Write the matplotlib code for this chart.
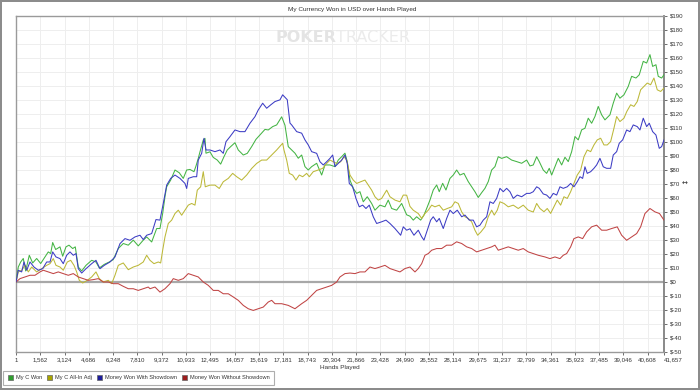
import matplotlib
matplotlib.use("Agg")
import matplotlib.pyplot as plt
from matplotlib.patches import Patch
from matplotlib.ticker import FixedLocator, FuncFormatter, MultipleLocator

title = "My Currency Won in USD over Hands Played"
x_label = "Hands Played"
series_names = ["My C Won", "My C All-In Adj", "Money Won With Showdown", "Money Won Without Showdown"]
x_ticks = [1, 1562, 3124, 4686, 6248, 7810, 9372, 10933, 12495, 14057, 15619, 17181, 18743,
           20304, 21866, 23428, 24990, 26552, 28114, 29675, 31237, 32799, 34361, 35923, 37485,
           39046, 40608, 41657]

green_x = [1, 148, 302, 469, 624, 855, 1073, 1331, 1588, 1864, 2076, 2231, 2359, 2552, 2828, 3002,
           3214, 3407, 3645, 3812, 4005, 4223, 4500, 4866, 5142, 5355, 5676, 5997, 6254, 6576, 6897,
           7219, 7540, 7861, 8183, 8401, 8723, 9044, 9256, 9430, 9578, 9687, 9944, 10221, 10497,
           10754, 10973, 11185, 11442, 11570, 11718, 11828, 12040, 12149, 12213, 12470, 12682,
           12940, 13158, 13370, 13582, 13801, 14077, 14289, 14611, 14868, 15151, 15427, 15684,
           16006, 16218, 16501, 16758, 17079, 17291, 17503, 17722, 17934, 18146, 18365, 18577,
           18789, 19007, 19329, 19650, 19863, 20184, 20505, 20717, 20936, 21148, 21296, 21470,
           21682, 21900, 22112, 22325, 22582, 22864, 23076, 23397, 23719, 23931, 24150, 24472,
           24793, 25114, 25326, 25539, 25757, 26015, 26226, 26400, 26612, 26824, 27043, 27210,
           27428, 27640, 27898, 28110, 28328, 28540, 28797, 29074, 29292, 29504, 29717, 29935,
           30147, 30359, 30578, 30790, 31002, 31221, 31542, 31864, 32185, 32506, 32828, 33040,
           33252, 33471, 33638, 33895, 34113, 34281, 34435, 34647, 34859, 35078, 35290, 35502,
           35721, 35933, 36145, 36363, 36575, 36788, 37006, 37218, 37430, 37649, 37861, 38182,
           38394, 38613, 38825, 39082, 39359, 39577, 39854, 40066, 40323, 40541, 40754, 40927,
           41139, 41287, 41506, 41657]
green_y = [0, 10.7, 14.3, 16.8, 7.9, 19.1, 13.6, 16.8, 13.2, 17.9, 21.5, 20.3, 28.2, 23.2, 25.1, 18.4,
           25.1, 26.3, 23.9, 25.1, 10.7, 7.9, 11.9, 15.5, 14.3, 10.0, 12.6, 14.3, 16.0, 23.9, 27.5,
           26.3, 29.9, 25.8, 29.9, 32.2, 28.6, 38.2, 38.2, 49.0, 60.9, 68.0, 72.8, 80.0, 78.0,
           74.0, 80.0, 80.4, 78.8, 82.8, 88.3, 93.0, 101.4, 102.6, 92.0, 93.0, 89.0,
           87.1, 84.2, 89.5, 94.3, 96.7, 99.5, 94.3, 90.7, 91.9, 96.7, 101.9, 105.0,
           109.0, 108.6, 111.0, 112.2, 118.0, 112.0, 96.7, 94.3, 92.0, 88.4, 90.7, 82.4,
           80.0, 82.4, 84.8, 76.4, 83.6, 83.6, 82.4, 87.1, 89.5, 92.0, 86.0, 72.8,
           66.9, 63.3, 64.5, 57.3, 60.9, 56.1, 51.3, 54.9, 53.7, 58.5, 52.5, 51.3,
           56.1, 48.0, 47.0, 44.2, 46.6, 44.2, 47.8, 52.5, 58.5, 65.7, 69.3, 64.5,
           70.5, 65.7, 74.0, 76.4, 80.0, 76.4, 77.6, 71.7, 68.1, 64.5, 60.4, 63.8,
           66.9, 71.7, 80.0, 82.4, 89.5, 88.3, 89.5, 87.1, 86.0, 84.8, 87.1, 82.9,
           83.6, 89.5, 86.0, 80.0, 77.6, 81.2, 76.4, 82.4, 88.3, 83.6, 89.1, 86.0,
           93.1, 103.9, 101.5, 108.7, 109.8, 117.0, 113.4, 118.2, 125.4, 119.4, 115.8, 119.4,
           127.7, 134.9, 131.3, 133.7, 139.7, 146.9, 145.7, 148.0, 157.6, 156.4, 162.4, 154.0,
           155.2, 146.9, 145.7, 148.0]

yellow_x = [1, 148, 366, 579, 791, 1009, 1331, 1652, 1973, 2186, 2398, 2571, 2828, 3040, 3298, 3516,
            3728, 3902, 4069, 4287, 4583, 4866, 5142, 5355, 5612, 5933, 6152, 6364, 6576, 6897,
            7219, 7540, 7861, 8183, 8401, 8614, 8871, 9147, 9301, 9430, 9578, 9790, 10009, 10221,
            10433, 10651, 10863, 11075, 11294, 11506, 11654, 11872, 12040, 12168, 12470, 12792,
            13068, 13325, 13647, 13929, 14187, 14508, 14830, 15151, 15472, 15794, 16115, 16437,
            16758, 17143, 17227, 17401, 17568, 17786, 17998, 18211, 18429, 18686, 18853, 19111,
            19432, 19715, 19972, 20184, 20396, 20615, 20872, 21084, 21257, 21470, 21682, 21900,
            22157, 22434, 22646, 22864, 23076, 23289, 23507, 23829, 24041, 24362, 24684, 24896,
            25114, 25326, 25539, 25860, 26079, 26291, 26503, 26722, 26933, 27210, 27467, 27724,
            28007, 28219, 28431, 28650, 28862, 29074, 29292, 29504, 29678, 29890, 30147, 30359,
            30578, 30745, 30938, 31112, 31369, 31645, 31967, 32288, 32609, 32931, 33252, 33471,
            33683, 33940, 34152, 34370, 34583, 34795, 35013, 35225, 35438, 35656, 35868, 36080,
            36299, 36511, 36723, 36942, 37154, 37366, 37585, 37797, 38009, 38227, 38439, 38613,
            38825, 39082, 39266, 39513, 39725, 39937, 40156, 40368, 40580, 40798, 41010, 41223,
            41441, 41657]
yellow_y = [0, 7.2, 8.4, 11.9, 7.2, 10.7, 7.2, 9.5, 11.9, 13.1, 16.7, 11.9, 10.7, 8.4, 14.3, 15.5,
            11.9, 7.2, 1.2, -0.7, 1.2, 3.6, 7.2, 2.4, 0.0, 1.2, -1.2, 4.8, 11.9, 13.6,
            8.8, 10.7, 11.9, 14.3, 19.1, 15.5, 13.1, 14.3, 13.6, 22.7, 32.2, 41.8, 44.2, 48.9,
            51.3, 47.7, 51.3, 54.9, 56.1, 54.9, 65.6, 68.0, 78.8, 68.0, 69.2, 69.2,
            66.8, 71.6, 74.0, 77.6, 75.2, 72.8, 76.4, 81.1, 84.7, 87.1, 87.1, 90.7,
            94.3, 99.1, 94.3, 87.1, 77.6, 76.4, 72.8, 76.4, 75.2, 77.6, 75.2, 78.8,
            80.0, 81.2, 84.7, 87.1, 85.9, 84.7, 85.9, 89.5, 87.1, 76.4, 72.8, 70.4,
            71.6, 72.8, 69.2, 65.6, 60.9, 58.5, 59.7, 65.6, 60.9, 58.5, 57.3, 62.1,
            62.0, 54.0, 51.3, 48.9, 45.4, 48.9, 51.3, 54.9, 53.7, 54.9, 51.3, 52.5,
            53.7, 57.3, 56.1, 50.1, 46.6, 45.4, 43.0, 37.0, 33.4, 35.8, 39.4, 46.6,
            51.3, 47.8, 51.3, 57.3, 56.1, 53.7, 54.9, 52.5, 54.9, 51.3, 50.0, 56.1,
            52.5, 50.2, 52.5, 49.0, 53.7, 58.5, 54.9, 60.9, 59.7, 64.5, 70.4, 76.4,
            80.0, 89.5, 94.3, 93.1, 97.9, 101.5, 102.7, 97.9, 97.9, 100.3, 109.8, 118.2,
            114.6, 117.0, 121.8, 126.6, 125.4, 128.9, 137.3, 139.7, 142.1, 140.9, 145.7, 137.3,
            136.1, 138.5]

blue_x = [1, 148, 366, 514, 688, 900, 1157, 1433, 1716, 1973, 2186, 2359, 2571, 2828, 3040, 3259,
          3471, 3683, 3857, 4005, 4223, 4500, 4866, 5142, 5400, 5676, 6042, 6364, 6685, 7007,
          7328, 7649, 7971, 8183, 8401, 8723, 8999, 9256, 9468, 9687, 9944, 10221, 10542, 10863,
          10973, 11075, 11397, 11615, 11718, 11937, 12085, 12213, 12470, 12792, 13113, 13325,
          13499, 13756, 14077, 14399, 14720, 15042, 15363, 15575, 15858, 16115, 16372, 16649,
          16970, 17143, 17439, 17613, 17722, 18043, 18365, 18577, 18789, 19007, 19329, 19541,
          19753, 19972, 20184, 20357, 20505, 20717, 20936, 21148, 21296, 21425, 21643, 21855,
          22067, 22286, 22498, 22710, 22967, 23186, 23507, 23784, 24041, 24362, 24729, 24896,
          25114, 25326, 25583, 25860, 26079, 26226, 26439, 26657, 26824, 27043, 27210, 27467,
          27685, 27898, 28110, 28367, 28650, 28862, 29138, 29395, 29614, 29825, 30038, 30257,
          30469, 30681, 30899, 31112, 31324, 31542, 31754, 31967, 32224, 32506, 32828, 33040,
          33252, 33471, 33638, 33895, 34113, 34326, 34538, 34756, 34968, 35181, 35438, 35656,
          35868, 36080, 36254, 36427, 36575, 36723, 36942, 37154, 37327, 37540, 37752, 37970,
          38227, 38394, 38613, 38780, 38999, 39256, 39468, 39680, 39937, 40111, 40323, 40541,
          40709, 40927, 41139, 41351, 41506, 41657]
blue_y = [0, 8.4, 7.2, 14.3, 8.4, 14.3, 10.7, 8.4, 9.5, 14.3, 14.3, 21.5, 17.9, 16.7, 13.1, 19.1,
          21.5, 19.1, 20.3, 9.5, 6.4, 9.5, 13.1, 15.5, 9.5, 11.9, 14.3, 17.9, 27.4, 31.0,
          29.8, 32.2, 33.4, 30.3, 33.4, 34.6, 44.6, 44.2, 56.1, 69.2, 74.0, 76.4, 74.0, 70.4,
          66.8, 74.0, 75.2, 75.2, 87.1, 91.9, 102.6, 94.3, 94.3, 93.1, 94.3, 91.9,
          100.2, 103.8, 108.6, 107.4, 107.4, 113.4, 118.1, 122.9, 127.7, 124.1, 126.5, 128.9,
          130.1, 133.7, 130.2, 113.5, 112.2, 107.4, 106.3, 101.5, 97.9, 93.1, 91.9, 85.9,
          83.6, 85.9, 88.3, 90.7, 82.4, 84.7, 87.1, 90.7, 84.7, 70.4, 68.0, 59.7,
          53.7, 54.9, 52.5, 54.9, 46.6, 41.8, 43.0, 44.2, 41.8, 38.2, 33.4, 39.4,
          37.0, 38.0, 33.4, 37.0, 32.3, 29.9, 37.0, 44.2, 46.6, 43.0, 45.4, 38.2,
          45.4, 51.3, 48.9, 51.3, 46.6, 47.8, 44.2, 44.2, 39.4, 40.6, 44.2, 46.6,
          57.3, 56.1, 59.7, 66.9, 64.5, 66.9, 64.5, 59.7, 62.1, 60.9, 63.3, 63.3,
          64.5, 68.0, 66.9, 62.9, 62.1, 59.7, 63.3, 62.1, 68.0, 66.9, 68.0, 70.4,
          68.0, 71.6, 75.2, 74.0, 82.3, 77.6, 78.8, 81.2, 83.6, 88.3, 82.3, 81.2,
          81.2, 90.7, 93.1, 99.1, 101.5, 108.6, 107.4, 112.2, 111.0, 108.6, 117.0, 111.0,
          113.4, 107.4, 105.0, 95.5, 96.7, 101.5]

red_x = [1, 257, 579, 900, 1221, 1543, 1755, 2076, 2398, 2719, 3040, 3362, 3683, 4005, 4326, 4647,
         4969, 5290, 5612, 5933, 6254, 6576, 6897, 7219, 7540, 7861, 8183, 8504, 8614, 8935,
         9256, 9578, 9899, 10111, 10433, 10754, 11075, 11397, 11718, 12040, 12361, 12682, 13004,
         13325, 13647, 13968, 14289, 14611, 14932, 15253, 15575, 15897, 16218, 16437, 16649,
         17079, 17503, 17934, 18365, 18686, 19007, 19329, 19650, 19972, 20293, 20615, 20827,
         21148, 21470, 21791, 22112, 22434, 22755, 23076, 23397, 23719, 24041, 24362, 24684,
         25005, 25326, 25648, 25860, 26079, 26291, 26503, 26722, 27043, 27364, 27685, 28007,
         28328, 28650, 28971, 29292, 29614, 29935, 30257, 30578, 30790, 31002, 31324, 31645,
         31967, 32288, 32609, 32931, 33252, 33573, 34004, 34326, 34647, 34968, 35181, 35399,
         35656, 35868, 36145, 36427, 36685, 37006, 37327, 37649, 37970, 38292, 38652, 38934,
         39256, 39577, 39899, 40156, 40432, 40754, 41075, 41368, 41657]
red_y = [0, 2.4, 3.6, 4.8, 4.8, 7.2, 8.4, 7.2, 6.0, 7.2, 6.0, 4.8, 6.0, 3.6, 2.4, 1.2,
         1.7, 2.4, 0.0, 0.0, -1.2, -1.2, -3.1, -4.8, -4.8, -6.0, -4.8, -3.6, -4.8, -3.6,
         -7.2, -4.8, -1.2, 2.4, 1.2, 2.4, 6.0, 4.8, 3.6, 0.0, -2.4, -6.0, -6.0,
         -8.4, -8.4, -10.7, -13.1, -16.7, -19.1, -20.3, -19.1, -17.9, -14.3, -13.1, -15.5,
         -15.5, -16.7, -19.1, -15.5, -13.1, -9.6, -6.0, -4.8, -3.6, -2.4, 0.0, 3.6,
         6.0, 6.4, 6.0, 7.2, 7.2, 10.7, 9.6, 10.7, 11.9, 9.6, 8.4, 7.2,
         9.6, 10.7, 7.2, 9.6, 13.1, 19.1, 20.3, 22.7, 23.9, 23.9, 26.3, 26.3,
         28.7, 27.5, 25.1, 23.9, 21.5, 22.7, 23.9, 25.1, 26.3, 22.7, 23.9, 25.1,
         23.9, 22.7, 23.9, 21.5, 20.3, 19.1, 17.9, 16.7, 17.9, 16.7, 19.1, 20.3,
         25.1, 31.0, 32.2, 31.0, 35.8, 39.4, 40.6, 37.0, 37.0, 38.2, 39.4, 33.4,
         29.8, 32.2, 34.6, 39.4, 48.9, 52.5, 50.1, 48.9, 44.2]

line_colors = ["#44b444", "#bcb838", "#3c3cc4", "#c04444"]
legend_colors = ["#2f9e2f", "#a8a400", "#1c1c9c", "#9c1c1c"]

plt.rcParams['font.family'] = ['Liberation Sans', 'DejaVu Sans']

fig = plt.figure(figsize=(7.0, 3.9), dpi=100, facecolor="white", edgecolor="#8c8c8c", linewidth=1.5)
ax = fig.add_axes([16 / 700, 1 - 352 / 390, 648 / 700, 336 / 390])

ax.set_xlim(1, 41657)
ax.set_ylim(-50, 190)

ax.plot(green_x, green_y, color=line_colors[0], lw=0.75, zorder=3)
ax.plot(yellow_x, yellow_y, color=line_colors[1], lw=0.75, zorder=3)
ax.plot(blue_x, blue_y, color=line_colors[2], lw=0.75, zorder=4)
ax.plot(red_x, red_y, color=line_colors[3], lw=0.75, zorder=3)

ax.axhline(0, color="#a8a8a8", lw=1.6, zorder=2)

ax.yaxis.tick_right()
ax.yaxis.set_major_locator(MultipleLocator(10))
ax.yaxis.set_major_formatter(FuncFormatter(lambda v, p: f"${int(round(v))}"))
ax.xaxis.set_major_locator(FixedLocator(x_ticks))
ax.xaxis.set_major_formatter(FuncFormatter(lambda v, p: f"{int(round(v)):,}"))

ax.tick_params(axis="y", which="both", labelsize=4.4, length=2.5, width=0.6, color="#555555",
               labelcolor="#333333", pad=1.5, right=True, left=False)
ax.tick_params(axis="x", labelsize=4.4, length=2, width=0.6, color="#555555",
               labelcolor="#333333", pad=2)
xl = ax.get_xticklabels()
xl[-1].set_horizontalalignment("left")

ax.grid(True, color="#eeeeee", lw=0.7, zorder=0)
ax.set_axisbelow(True)
for s in ax.spines.values():
    s.set_color("#9a9a9a")
    s.set_linewidth(1.0)
ax.spines["right"].set_color("#808080")
ax.spines["right"].set_linewidth(1.3)

fig.text(352 / 700, 1 - 10 / 390, title, ha="center", va="center", fontsize=4.6, color="#333333")
fig.text(340 / 700, 1 - 367 / 390, x_label, ha="center", va="center", fontsize=4.6, color="#333333")

# watermark
fig.text(336 / 700, 1 - 38 / 390, "POKER", ha="right", va="center", fontsize=11.5,
         fontweight="bold", color="#e4e4e4", family=["Liberation Sans Narrow", "DejaVu Sans"], zorder=0)
fig.text(336 / 700, 1 - 38 / 390, "TRACKER", ha="left", va="center", fontsize=11.5,
         color="#ebebeb", family=["Liberation Sans Narrow", "DejaVu Sans"], zorder=0)

fig.text(685 / 700, 1 - 184 / 390, "\u2194", ha="center", va="center", fontsize=5, color="#333333",
         family="DejaVu Sans")

handles = [Patch(facecolor=c, edgecolor="#666666", linewidth=0.5) for c in legend_colors]
leg = fig.legend(handles, series_names, loc="lower left", bbox_to_anchor=(3 / 700, 1 - 385 / 390),
                 ncol=4, fontsize=4.1, frameon=True, fancybox=False, handlelength=0.9,
                 handleheight=0.9, handletextpad=0.5, columnspacing=0.9, borderpad=0.8,
                 labelcolor="#333333", borderaxespad=0)
leg.get_frame().set_edgecolor("#9a9a9a")
leg.get_frame().set_linewidth(0.8)

fig.savefig("out.png", dpi=100, facecolor="white")
